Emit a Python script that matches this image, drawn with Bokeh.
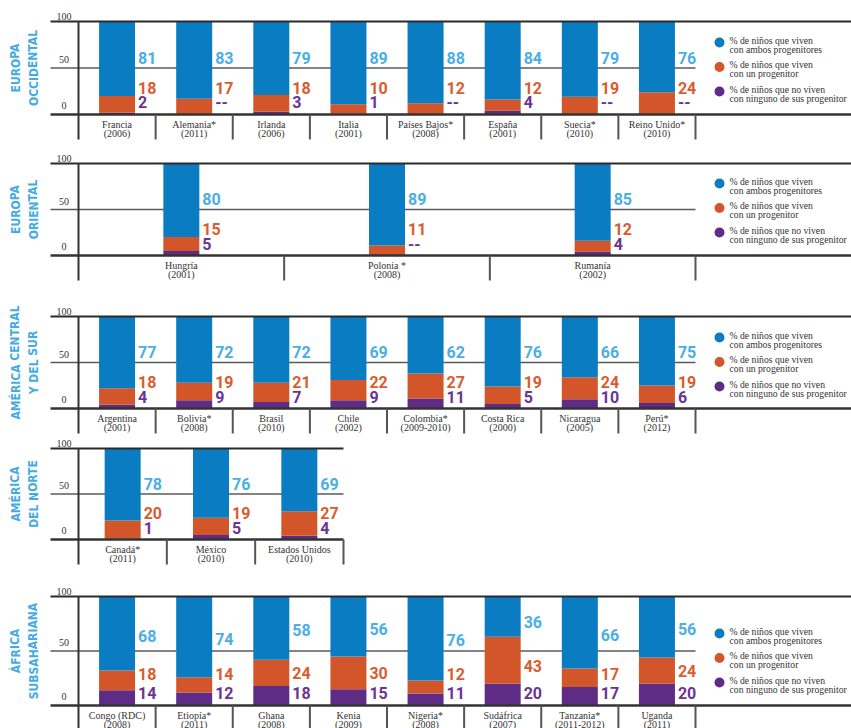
from bokeh.plotting import figure
from bokeh.layouts import column
from bokeh.models import Range1d, ColumnDataSource
from bokeh.core.properties import value
from bokeh.embed import file_html
from bokeh.resources import INLINE

# ---------------- data ----------------
occ_names = ["Francia", "Alemania*", "Irlanda", "Italia", "Países Bajos*", "España", "Suecia*", "Reino Unido*"]
occ_years = ["(2006)", "(2011)", "(2006)", "(2001)", "(2008)", "(2001)", "(2010)", "(2010)"]
occ_both = [81, 83, 79, 89, 88, 84, 79, 76]
occ_one = [18, 17, 18, 10, 12, 12, 19, 24]
occ_none = [2, None, 3, 1, None, 4, None, None]

ori_names = ["Hungría", "Polonia *", "Rumanía"]
ori_years = ["(2001)", "(2008)", "(2002)"]
ori_both = [80, 89, 85]
ori_one = [15, 11, 12]
ori_none = [5, None, 4]

sur_names = ["Argentina", "Bolivia*", "Brasil", "Chile", "Colombia*", "Costa Rica", "Nicaragua", "Perú*"]
sur_years = ["(2001)", "(2008)", "(2010)", "(2002)", "(2009-2010)", "(2000)", "(2005)", "(2012)"]
sur_both = [77, 72, 72, 69, 62, 76, 66, 75]
sur_one = [18, 19, 21, 22, 27, 19, 24, 19]
sur_none = [4, 9, 7, 9, 11, 5, 10, 6]

nor_names = ["Canadá*", "México", "Estados Unidos"]
nor_years = ["(2011)", "(2010)", "(2010)"]
nor_both = [78, 76, 69]
nor_one = [20, 19, 27]
nor_none = [1, 5, 4]

afr_names = ["Congo (RDC)", "Etiopía*", "Ghana", "Kenia", "Nigeria*", "Sudáfrica", "Tanzania*", "Uganda"]
afr_years = ["(2008)", "(2011)", "(2008)", "(2009)", "(2008)", "(2007)", "(2011-2012)", "(2011)"]
afr_both = [68, 74, 58, 56, 76, 36, 66, 56]
afr_one = [18, 14, 24, 30, 12, 43, 17, 24]
afr_none = [14, 12, 18, 15, 11, 20, 17, 20]

region_titles = [("EUROPA", "OCCIDENTAL"), ("EUROPA", "ORIENTAL"),
                 ("AMÉRICA CENTRAL", "Y DEL SUR"), ("AMÉRICA", "DEL NORTE"),
                 ("ÁFRICA", "SUBSAHARIANA")]
tick_values = [100, 50, 0]
legend_line1 = ["% de niños que viven", "% de niños que viven", "% de niños que no viven"]
legend_line2 = ["con ambos progenitores", "con un progenitor", "con ninguno de sus progenitor"]

# ---------------- style ----------------
BLUE, ORANGE, PURPLE = "#0A7CC2", "#D3552A", "#5E2C85"
BLUE_T, ORANGE_T, PURPLE_T = "#4BAEE4", "#DA5C2E", "#6A3494"
TITLE_C = "#45ABE2"
NUM_FONT = "Roboto"
TITLE_FONT = "DejaVu Sans Condensed"
SERIF = "Liberation Serif"
W = 851


def make_panel(geo, names, years, both, one, none, title):
    T, H, y100, y0, colw, line_end, legend_top, adaptive = geo
    n = len(names)
    k = (y0 - y100) / 100.0

    def ux(px):
        return (px - 78.0) / colw

    def uy(py):
        return (y0 - py) / k

    p = figure(width=W, height=H, x_range=Range1d(ux(0), ux(W)),
               y_range=Range1d(uy(T + H), uy(T)), output_backend="svg",
               toolbar_location=None, x_axis_location=None, y_axis_location=None,
               min_border=0, outline_line_color=None, title=None)
    p.xgrid.visible = False
    p.ygrid.visible = False
    p.background_fill_color = "white"
    p.border_fill_color = "white"

    grid_end = 78 + n * colw
    bottom_px = y0 + 25
    p.segment(x0=[ux(50)], y0=[50], x1=[ux(grid_end)], y1=[50], line_color="#5a5a5a", line_width=1.6)

    xs = [i + 0.5 for i in range(n)]
    pv = [v if v is not None else 0 for v in none]
    ot = [a + b for a, b in zip(pv, one)]
    src = ColumnDataSource(dict(x=xs, pv=pv, ot=ot))
    bw = 36.0 / colw
    p.vbar(x="x", width=bw, bottom=0, top="pv", source=src, fill_color=PURPLE, line_color=None)
    p.vbar(x="x", width=bw, bottom="pv", top="ot", source=src, fill_color=ORANGE, line_color=None)
    p.vbar(x="x", width=bw, bottom="ot", top=100, source=src, fill_color=BLUE, line_color=None)

    p.segment(x0=[ux(50)], y0=[100], x1=[ux(line_end)], y1=[100], line_color="#2a2a2a", line_width=2)
    p.segment(x0=[ux(50)], y0=[0], x1=[ux(line_end)], y1=[0], line_color="#333333", line_width=2.5)
    p.segment(x0=[0], y0=[100], x1=[0], y1=[uy(bottom_px)], line_color="#333333", line_width=2)
    seps = list(range(1, n + 1))
    p.segment(x0=seps, y0=[0] * n, x1=seps, y1=[uy(bottom_px)] * n, line_color="#555555", line_width=2)

    tick_off = [5, 8.5, 9]
    p.text(x=[ux(63.5)] * 3, y=[uy(y0 - v * k - o) for v, o in zip(tick_values, tick_off)],
           text=[str(v) for v in tick_values], text_font=value(SERIF), text_font_size="10px",
           text_color="#333333", text_align="center", text_baseline="middle")

    lx = [x + bw / 2 + 3.0 / colw for x in xs]
    if adaptive:
        by = [max(60.0, min((o + 100) / 2.0 - 2, 77.0)) for o in ot]
        oy = [max(29.0, min(pp + q / 2.0, 36.0)) for pp, q in zip(pv, one)]
        py = [11.5] * n
    else:
        by = [61.0] * n
        oy = [29.0] * n
        py = [13.0] * n
    common = dict(text_font=value(NUM_FONT), text_font_style="bold", text_font_size="16px",
                  text_align="left", text_baseline="middle")
    p.text(x=lx, y=by, text=[str(v) for v in both], text_color=BLUE_T, **common)
    p.text(x=lx, y=oy, text=[str(v) for v in one], text_color=ORANGE_T, **common)
    p.text(x=lx, y=py, text=[str(v) if v is not None else "--" for v in none], text_color=PURPLE_T, **common)

    p.text(x=xs, y=[uy(y0 + 9.5)] * n, text=names, text_font=value(SERIF), text_font_size="10px",
           text_color="#333333", text_align="center", text_baseline="middle")
    p.text(x=xs, y=[uy(y0 + 18.5)] * n, text=years, text_font=value(SERIF), text_font_size="10px",
           text_color="#333333", text_align="center", text_baseline="middle")

    p.text(x=[ux(15), ux(33)], y=[50, 50], text=list(title), angle=1.5708,
           text_font=value(TITLE_FONT), text_font_style="bold", text_font_size="12px",
           text_color=TITLE_C, text_align="center", text_baseline="middle")

    if legend_top is not None:
        cy = [y100 + legend_top + j * 24.5 for j in range(3)]
        p.scatter(x=[ux(719)] * 3, y=[uy(c) for c in cy], size=10,
                  fill_color=[BLUE, ORANGE, PURPLE], line_color=None, marker="circle")
        p.text(x=[ux(729)] * 3, y=[uy(c - 2.5) for c in cy], text=legend_line1,
               text_font=value(SERIF), text_font_size="9.7px", text_color="#333333",
               text_align="left", text_baseline="middle")
        p.text(x=[ux(729)] * 3, y=[uy(c + 6.5) for c in cy], text=legend_line2,
               text_font=value(SERIF), text_font_size="9.7px", text_color="#333333",
               text_align="left", text_baseline="middle")
    return p


# geometry: (top, height, y of 100-line, y of 0-line, column width, line end, legend offset, adaptive labels)
geos = [
    (0, 150, 21, 114, 617 / 8, 851, 21, False),
    (150, 147, 163, 255, 617 / 3, 851, 20, False),
    (297, 140, 316, 408, 617 / 8, 851, 21, False),
    (437, 147, 448, 539, 265 / 3, 343, None, False),
    (584, 144, 596, 705, 617 / 8, 851, 37, True),
]

panels = [
    make_panel(geos[0], occ_names, occ_years, occ_both, occ_one, occ_none, region_titles[0]),
    make_panel(geos[1], ori_names, ori_years, ori_both, ori_one, ori_none, region_titles[1]),
    make_panel(geos[2], sur_names, sur_years, sur_both, sur_one, sur_none, region_titles[2]),
    make_panel(geos[3], nor_names, nor_years, nor_both, nor_one, nor_none, region_titles[3]),
    make_panel(geos[4], afr_names, afr_years, afr_both, afr_one, afr_none, region_titles[4]),
]

layout = column(*panels, spacing=0)
open("out.html", "w").write(file_html(layout, INLINE))
